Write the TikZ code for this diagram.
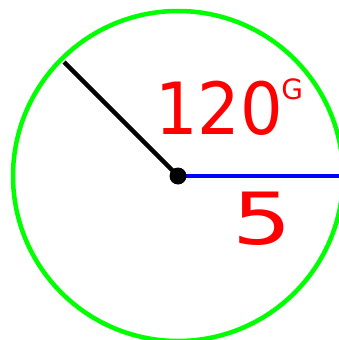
\documentclass[tikz,border=0pt]{standalone}
\usepackage{fontspec}
\newfontfamily\hand{DejaVu Sans}
\begin{document}
\begin{tikzpicture}[x=1pt,y=-1pt,
  lbl/.style={text=red,inner sep=0pt,font=\hand}]
\useasboundingbox (0,0) rectangle (339,340);
\begin{scope}
\clip (0,0) rectangle (339,340);
\coordinate (c) at (178,176);
\coordinate (tip) at (64,62);
\coordinate (rt) at (339,176);
\draw[green,line width=4.5] (c) circle[radius=165];
\draw[black,line width=4.5] (c) -- (tip);
\draw[blue,line width=4.5] (c) -- (rt);
\fill[black] (c) circle[radius=8.5];
\end{scope}
\node[lbl,font=\hand\fontsize{72}{72}\selectfont,xscale=0.93] (ang) at (219,108) {120};
\node[lbl,font=\hand\fontsize{28}{28}\selectfont,anchor=west] (g) at ([xshift=-2pt]ang.east |- 0,89) {G};
\node[lbl,font=\hand\fontsize{72}{72}\selectfont,xscale=1.3] (r) at (262,219) {5};
\end{tikzpicture}
\end{document}
